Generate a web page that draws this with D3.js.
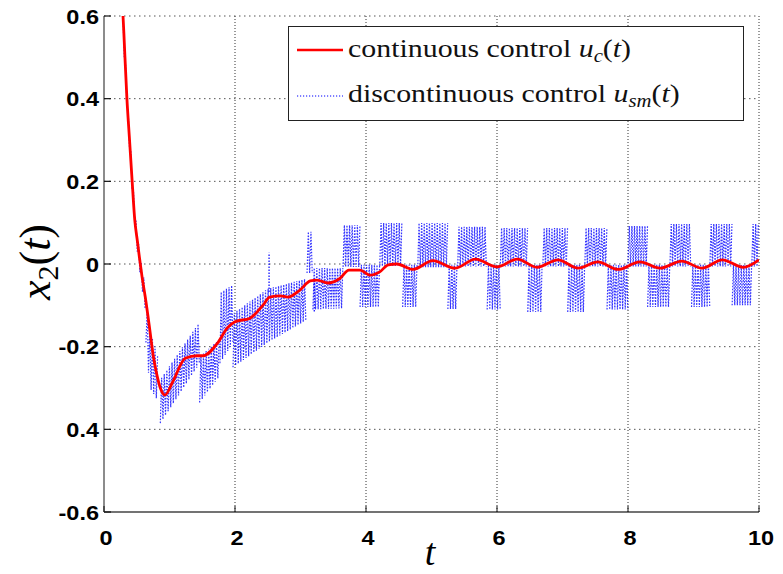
<!DOCTYPE html>
<html><head><meta charset="utf-8">
<script src="https://cdn.jsdelivr.net/npm/d3@7"></script>
<style>body{margin:0;background:#fff}svg{display:block}</style>
</head><body>
<svg id="c" width="783" height="574"></svg>
<script>
// ---- data ----
const xTicks = [0, 2, 4, 6, 8, 10];
const xTickLabels = ["0", "2", "4", "6", "8", "10"];
const yTicks = [-0.6, -0.4, -0.2, 0, 0.2, 0.4, 0.6];
const yTickLabels = ["-0.6", "0.4", "-0.2", "0", "0.2", "0.4", "0.6"];

// continuous control u_c(t): x2(t)
const redT = [0.27, 0.29, 0.32, 0.35, 0.39, 0.43, 0.47, 0.51, 0.54, 0.58, 0.63, 0.70, 0.75, 0.81, 0.86, 0.93, 1.05, 1.24, 1.42, 1.51,
  1.74, 1.88, 2.00, 2.23, 2.43, 2.53, 2.69, 2.81, 2.99, 3.15, 3.25, 3.42, 3.60, 3.74, 3.91, 4.06, 4.21,
  4.34, 4.47, 4.72, 5.02, 5.36, 5.67, 6.00, 6.31, 6.61, 6.93, 7.24, 7.54, 7.85, 8.18, 8.49, 8.82, 9.13,
  9.44, 9.76, 10.0];
const redV = [0.64, 0.60, 0.50, 0.40, 0.30, 0.20, 0.106, 0.055, 0.017, -0.03, -0.08, -0.16, -0.22, -0.27, -0.30, -0.317, -0.285, -0.228, -0.222, -0.222,
  -0.19, -0.155, -0.14, -0.131, -0.099, -0.08, -0.077, -0.08, -0.063, -0.041, -0.039, -0.046, -0.035, -0.015, -0.015, -0.027, -0.019,
  -0.002, 0.0, -0.013, 0.008, -0.01, 0.012, -0.007, 0.012, -0.008, 0.01, -0.01, 0.005, -0.013, 0.005, -0.01, 0.007, -0.01,
  0.01, -0.008, 0.01];

// discontinuous control u_sm(t): chattering envelopes (t, lower, upper)
const bandT = [
  [0.27, 0.35, 0.43, 0.50, 0.58, 0.64],
  [0.64, 0.70, 0.82],
  [0.86, 1.46],
  [1.46, 1.77],
  [1.77, 1.97],
  [1.97, 2.50, 3.10],
  [3.10, 3.19],
  [3.19, 3.65],
  [3.65, 3.91], [3.91, 4.21], [4.21, 4.56], [4.56, 4.79], [4.79, 5.25], [5.25, 5.40], [5.40, 5.85],
  [5.85, 6.05], [6.05, 6.47], [6.47, 6.70], [6.70, 7.08], [7.08, 7.34], [7.34, 7.68], [7.68, 8.00],
  [8.00, 8.30], [8.30, 8.64], [8.64, 8.97], [8.97, 9.25], [9.25, 9.59], [9.59, 9.89], [9.89, 10.0]
];
const bandLo = [
  [0.62, 0.38, 0.18, 0.04, -0.06, -0.12],
  [-0.19, -0.30, -0.33],
  [-0.385, -0.24],
  [-0.335, -0.27],
  [-0.24, -0.19],
  [-0.25, -0.19, -0.135],
  [-0.022, -0.022],
  [-0.11, -0.107],
  [-0.007, -0.007], [-0.104, -0.104], [-0.005, -0.005], [-0.104, -0.104], [-0.008, -0.008], [-0.109, -0.109], [-0.006, -0.006],
  [-0.11, -0.11], [-0.006, -0.006], [-0.116, -0.116], [-0.006, -0.006], [-0.116, -0.116], [-0.006, -0.006], [-0.11, -0.11],
  [-0.006, -0.006], [-0.104, -0.104], [-0.006, -0.006], [-0.104, -0.104], [-0.006, -0.006], [-0.10, -0.10], [-0.006, -0.006]
];
const bandHi = [
  [0.66, 0.42, 0.22, 0.08, -0.01, -0.06],
  [-0.09, -0.16, -0.22],
  [-0.28, -0.14],
  [-0.225, -0.18],
  [-0.07, -0.05],
  [-0.12, -0.06, -0.035],
  [0.078, 0.078],
  [-0.01, -0.01],
  [0.094, 0.094], [-0.002, -0.002], [0.099, 0.099], [-0.002, -0.002], [0.099, 0.099], [-0.002, -0.002], [0.09, 0.09],
  [-0.002, -0.002], [0.087, 0.087], [-0.002, -0.002], [0.087, 0.087], [-0.002, -0.002], [0.087, 0.087], [-0.002, -0.002],
  [0.092, 0.092], [-0.002, -0.002], [0.097, 0.097], [-0.002, -0.002], [0.097, 0.097], [-0.002, -0.002], [0.097, 0.097]
];
// isolated chattering spikes
const spikeT = [2.52, 3.21];
const spikeLo = [-0.068, -0.115];
const spikeHi = [0.027, -0.04];

const legendLabels = ["continuous control ", "discontinuous control "];
const legendSubs = ["c", "sm"];

// ---- drawing ----
const svg = d3.select("#c");
const L = 104, R = 759, T = 16, B = 512;
const x = d3.scaleLinear().domain([0, 10]).range([L, R]);
const y = d3.scaleLinear().domain([-0.6, 0.6]).range([B, T]);

svg.append("rect").attr("width", 783).attr("height", 574).attr("fill", "#fff");
svg.append("clipPath").attr("id", "clip").append("rect")
  .attr("x", L).attr("y", T).attr("width", R - L).attr("height", B - T);

// grid
const g = svg.append("g");
g.selectAll(".hg").data(yTicks.filter(v => v > -0.6)).join("line")
  .attr("x1", L).attr("x2", R).attr("y1", d => y(d)).attr("y2", d => y(d))
  .attr("stroke", "#555").attr("stroke-width", 1).attr("stroke-dasharray", "1.5,3.5");
g.selectAll(".vg").data(xTicks.filter(v => v > 0)).join("line")
  .attr("y1", T).attr("y2", B).attr("x1", d => x(d)).attr("x2", d => x(d))
  .attr("stroke", "#333").attr("stroke-width", 1).attr("stroke-dasharray", "1,2");

// blue chattering
const plot = svg.append("g").attr("clip-path", "url(#clip)");
const zig = [];
bandT.forEach((ts, i) => {
  const lo = d3.scaleLinear().domain(ts).range(bandLo[i]);
  const hi = d3.scaleLinear().domain(ts).range(bandHi[i]);
  const p0 = x(ts[0]), p1 = x(ts[ts.length - 1]);
  const pts = [];
  let k = 0;
  for (let px = p0; px <= p1 + 0.01; px += 1.3, k++) {
    const t = x.invert(px);
    pts.push([px, y(k % 2 ? hi(t) : lo(t))]);
  }
  zig.push(pts);
});
plot.selectAll(".blue").data(zig).join("path")
  .attr("d", d3.line())
  .attr("fill", "none").attr("stroke", "#0000ff").attr("stroke-width", 1.2)
  .attr("stroke-dasharray", "1.6,1.4").attr("opacity", 0.8);
plot.selectAll(".spk").data(spikeT).join("line")
  .attr("x1", d => x(d)).attr("x2", d => x(d))
  .attr("y1", (d, i) => y(spikeLo[i])).attr("y2", (d, i) => y(spikeHi[i]))
  .attr("stroke", "#0000ff").attr("stroke-width", 1.2).attr("stroke-dasharray", "1.6,1.4");

// red line
plot.append("path").datum(redT.map((t, i) => [t, redV[i]]))
  .attr("d", d3.line().x(d => x(d[0])).y(d => y(d[1])).curve(d3.curveMonotoneX))
  .attr("fill", "none").attr("stroke", "#ff0000").attr("stroke-width", 2.8)
  .attr("stroke-linejoin", "round");

// axes lines
svg.append("line").attr("x1", L).attr("x2", L).attr("y1", T).attr("y2", B)
  .attr("stroke", "#666").attr("stroke-width", 1.5);
svg.append("line").attr("x1", L).attr("x2", R).attr("y1", B).attr("y2", B)
  .attr("stroke", "#444").attr("stroke-width", 1.5);
// ticks
svg.selectAll(".yt").data(yTicks).join("line")
  .attr("x1", L).attr("x2", L + 7).attr("y1", d => y(d)).attr("y2", d => y(d))
  .attr("stroke", "#111").attr("stroke-width", 1.2);
svg.selectAll(".xt").data(xTicks).join("line")
  .attr("x1", d => x(d)).attr("x2", d => x(d)).attr("y1", B).attr("y2", B - 6)
  .attr("stroke", "#111").attr("stroke-width", 1);

// tick labels
const fs = "'Liberation Sans', Arial, sans-serif";
svg.selectAll(".yl").data(yTicks).join("text")
  .attr("transform", d => `translate(99,${y(d)}) scale(1.12,1)`)
  .attr("text-anchor", "end").attr("dy", "0.36em")
  .attr("font-family", fs).attr("font-weight", "bold").attr("font-size", 21)
  .text((d, i) => yTickLabels[i]);
svg.selectAll(".xl").data(xTicks).join("text")
  .attr("transform", d => `translate(${x(d) + 2},545) scale(1.12,1)`)
  .attr("text-anchor", "middle")
  .attr("font-family", fs).attr("font-weight", "bold").attr("font-size", 21)
  .text((d, i) => xTickLabels[i]);

// axis titles
const serif = "'Liberation Serif', 'Times New Roman', serif";
const yl = svg.append("text").attr("transform", "translate(50,262) rotate(-90)")
  .attr("text-anchor", "middle").attr("font-family", serif).attr("font-size", 44);
yl.append("tspan").attr("font-style", "italic").text("x");
yl.append("tspan").attr("font-size", 30).attr("dy", 8).text("2");
yl.append("tspan").attr("dy", -8).text("(");
yl.append("tspan").attr("font-style", "italic").text("t");
yl.append("tspan").text(")");
svg.append("text").attr("x", 430).attr("y", 565).attr("text-anchor", "middle")
  .attr("font-family", serif).attr("font-style", "italic").attr("font-size", 38).text("t");

// legend
const lg = svg.append("g");
lg.append("rect").attr("x", 288.5).attr("y", 26.5).attr("width", 455).attr("height", 94)
  .attr("fill", "#fff").attr("stroke", "#222").attr("stroke-width", 1);
const rows = [57, 102];
const lineY = [50, 96];
lg.append("line").attr("x1", 297).attr("x2", 343).attr("y1", lineY[0]).attr("y2", lineY[0])
  .attr("stroke", "#ff0000").attr("stroke-width", 2.6);
lg.append("line").attr("x1", 297).attr("x2", 343).attr("y1", lineY[1]).attr("y2", lineY[1])
  .attr("stroke", "#0000ff").attr("stroke-width", 1).attr("stroke-dasharray", "1.2,1.8");
legendLabels.forEach((lab, i) => {
  const tx = lg.append("text").attr("transform", `translate(348,${rows[i]}) scale(1.15,1)`)
    .attr("font-family", serif).attr("font-size", 26).attr("fill", "#111");
  tx.append("tspan").text(lab);
  tx.append("tspan").attr("font-style", "italic").text("u");
  tx.append("tspan").attr("font-style", "italic").attr("font-size", 18).attr("dy", 5).text(legendSubs[i]);
  tx.append("tspan").attr("dy", -5).text("(");
  tx.append("tspan").attr("font-style", "italic").text("t");
  tx.append("tspan").text(")");
});
</script>
</body></html>
